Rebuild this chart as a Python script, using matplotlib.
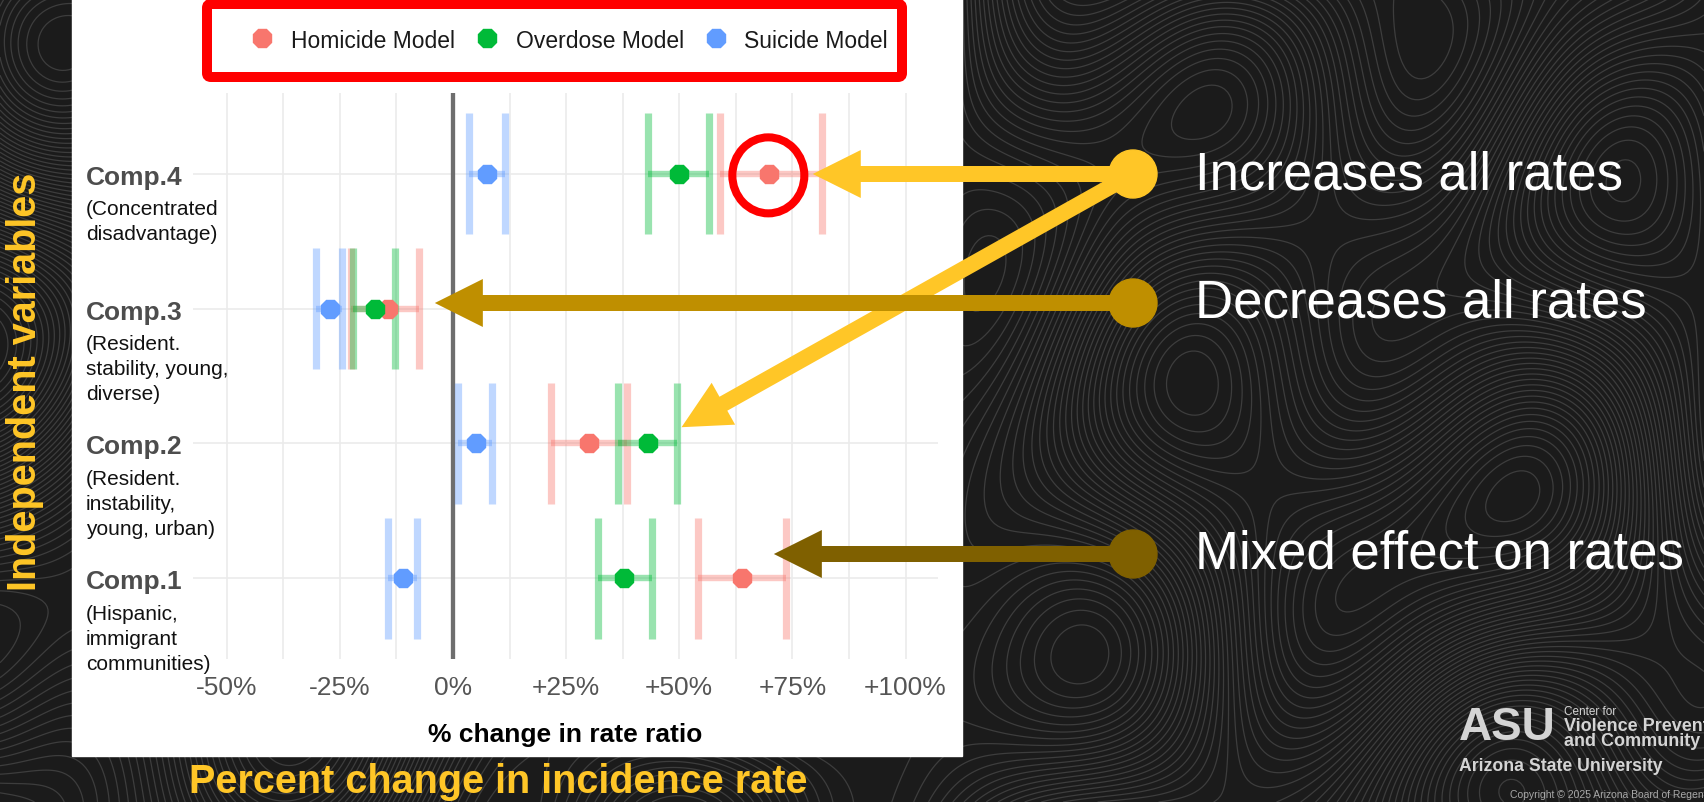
import numpy as np
import matplotlib
matplotlib.use("Agg")
import matplotlib.pyplot as plt
from matplotlib import transforms
from matplotlib.patches import Rectangle, Circle, Ellipse, FancyArrow, FancyBboxPatch

plt.rcParams['font.family'] = ['Liberation Sans', 'DejaVu Sans']
plt.rcParams['contour.negative_linestyle'] = 'solid'

# ---- data ----
components = ["Comp.1", "Comp.2", "Comp.3", "Comp.4"]
descriptions = [
    ["(Hispanic,", "immigrant", "communities)"],
    ["(Resident.", "instability,", "young, urban)"],
    ["(Resident.", "stability, young,", "diverse)"],
    ["(Concentrated", "disadvantage)"],
]
models = ["Homicide Model", "Overdose Model", "Suicide Model"]
model_colors = ["#F8766D", "#00BA38", "#619CFF"]

homicide_est = [63.8, 30.1, -14.3, 69.9]
homicide_lo = [54.2, 21.6, -22.5, 59.0]
homicide_hi = [73.5, 38.5, -7.5, 81.6]

overdose_est = [37.8, 43.2, -17.3, 49.9]
overdose_lo = [32.0, 36.5, -22.1, 43.0]
overdose_hi = [43.9, 49.6, -12.9, 56.6]

suicide_est = [-11.0, 5.1, -27.1, 7.5]
suicide_lo = [-14.4, 1.2, -30.2, 3.6]
suicide_hi = [-7.9, 8.6, -24.5, 11.5]

xticks = [-50, -25, 0, 25, 50, 75, 100]
xtick_labels = ["-50%", "-25%", "0%", "+25%", "+50%", "+75%", "+100%"]
minor_xticks = [-37.5, -12.5, 12.5, 37.5, 62.5, 87.5]

effect_labels = ["Increases all rates", "Decreases all rates", "Mixed effect on rates"]
effect_colors = ["#FFC627", "#BF8F00", "#7F6000"]
effect_y = [175, 304, 555]          # marker rows on the slide (px)
# arrow tips in chart coords (% change, component row)
arrow_tips = [(79.5, 4.0), (50.5, 2.12), (-4.0, 3.05), (70.9, 1.18)]
arrow_from = [0, 0, 1, 2]

GOLD = "#FFC627"
W, H = 1704, 803

fig = plt.figure(figsize=(W / 100, H / 100), dpi=100)

# background slide
bg = fig.add_axes([0, 0, 1, 1], zorder=0)
bg.set_xlim(0, W)
bg.set_ylim(H, 0)
bg.axis('off')
bg.add_patch(Rectangle((0, 0), W, H, color='#1b1b1b', zorder=0))
gx, gy = np.meshgrid(np.linspace(0, W, 520), np.linspace(0, H, 260))
topo = (np.sin(gx / 170 + 0.6 * np.cos(gy / 130)) + 0.8 * np.cos(gy / 95 - gx / 260)
        + 0.5 * np.sin((gx + gy) / 75) + 0.35 * np.cos(gx / 55 - gy / 140))
bg.contour(gx, gy, topo, levels=60, colors='#3d3d3d', linewidths=0.9, zorder=1)
bg.add_patch(Rectangle((72, 0), 890, 757, color='white', zorder=2))

# chart
ax = fig.add_axes([192.7 / W, 1 - 660 / H, 745 / W, 566 / H], zorder=1)
ax.set_facecolor('white')
rows = np.arange(1, len(components) + 1)
ax.set_xlim(-57.5, 107.1)
ax.set_ylim(0.4, 4.6)
for s in ax.spines.values():
    s.set_visible(False)
ax.set_xticks(xticks)
ax.set_xticklabels(xtick_labels)
ax.set_xticks(minor_xticks, minor=True)
ax.set_yticks(rows)
ax.set_yticklabels([])
ax.tick_params(which='both', length=0)
ax.tick_params(axis='x', labelsize=19, labelcolor='#555555', pad=11.5)
ax.grid(True, which='both', color='#EBEBEB', lw=1.2)
ax.set_axisbelow(True)
ax.axvline(0, color='#6E6E6E', lw=3.1, zorder=2)

series = [(homicide_est, homicide_lo, homicide_hi),
          (overdose_est, overdose_lo, overdose_hi),
          (suicide_est, suicide_lo, suicide_hi)]
for color, (est, lo, hi) in zip(model_colors, series):
    ax.hlines(rows, lo, hi, color=color, alpha=0.4, lw=4.6, zorder=3)
    ax.vlines(lo, rows - 0.45, rows + 0.45, color=color, alpha=0.4, lw=5.2, zorder=3)
    ax.vlines(hi, rows - 0.45, rows + 0.45, color=color, alpha=0.4, lw=5.2, zorder=3)
handles = []
for name, color, (est, lo, hi) in zip(models, model_colors, series):
    h, = ax.plot(est, rows, ls='none', marker='8', ms=14.5, color=color, label=name, zorder=4)
    handles.append(h)

ax.set_xlabel("% change in rate ratio", fontsize=19, fontweight='bold', labelpad=16.5)

leg = fig.legend(handles, models, loc='center', bbox_to_anchor=(570 / W, 1 - 41 / H), ncol=3,
                 frameon=False, fontsize=16.5, handlelength=0.9, handletextpad=0.8,
                 columnspacing=0.95)
for t in leg.get_texts():
    t.set_color('#1a1a1a')

# overlay for slide annotations
ov = fig.add_axes([0, 0, 1, 1], zorder=3)
ov.set_xlim(0, W)
ov.set_ylim(H, 0)
ov.axis('off')


def to_ov(x, y):
    return ov.transData.inverted().transform(ax.transData.transform((x, y)))


ov.add_patch(FancyBboxPatch((207, 5), 695, 73, boxstyle='round,pad=0,rounding_size=4',
                            ec='#FF0000', fc='none', lw=7.2))

# component labels left of the panel
lab_tf = transforms.blended_transform_factory(ov.transData, ax.transData)
for r, name, desc in zip(rows, components, descriptions):
    ov.text(86, r, name, transform=transforms.offset_copy(lab_tf, fig=fig, y=-3, units='dots'),
            fontsize=19, fontweight='bold', color='#4D4D4D', ha='left', va='center')
    for i, line in enumerate(desc):
        ov.text(86, r, line,
                transform=transforms.offset_copy(lab_tf, fig=fig, y=-35 - 25 * i, units='dots'),
                fontsize=15, color='#111111', ha='left', va='center')

# highlight circle on Comp.4 homicide estimate
cx, cy = to_ov(homicide_est[3], rows[3])
ov.add_patch(Ellipse((cx - 1, cy + 1.5), 72, 76, fc='none', ec='#FF0000', lw=5.8))

# arrows + markers
for (tx, ty), k in zip(arrow_tips, arrow_from):
    px, py = to_ov(tx, ty)
    sx, sy = 1133, effect_y[k]
    if abs(py - sy) < 4:
        py = sy
    ov.add_patch(FancyArrow(sx, sy, px - sx, py - sy, width=16, head_width=48, head_length=48,
                            length_includes_head=True, color=effect_colors[k], lw=0))
for y, c, lab in zip(effect_y, effect_colors, effect_labels):
    ov.add_patch(Circle((1133, y), 24, color=c))
    ov.text(1195, y, lab, fontsize=38, color='white', ha='left', va='center')

ov.text(25, 382, "Independent variables", rotation=90, fontsize=28.5, fontweight='bold',
        color=GOLD, ha='center', va='center')
ov.text(498, 782, "Percent change in incidence rate", fontsize=28.5, fontweight='bold',
        color=GOLD, ha='center', va='center')

# logo block
logo = '#D4D4D4'
ov.text(1459, 728, "ASU", fontsize=33, fontweight='bold', color=logo, ha='left', va='center')
ov.text(1564, 712, "Center for", fontsize=8.5, color=logo, ha='left', va='center')
ov.text(1564, 727, "Violence Prevention", fontsize=13, fontweight='bold', color=logo,
        ha='left', va='center')
ov.text(1564, 742, "and Community Safety", fontsize=13, fontweight='bold', color=logo,
        ha='left', va='center')
ov.text(1459, 767, "Arizona State University", fontsize=12.7, fontweight='bold', color=logo,
        ha='left', va='center')
ov.text(1510, 795, "Copyright \u00a9 2025 Arizona Board of Regents", fontsize=7.5,
        color='#A8A8A8', ha='left', va='center')

fig.savefig("out.png", dpi=100)
